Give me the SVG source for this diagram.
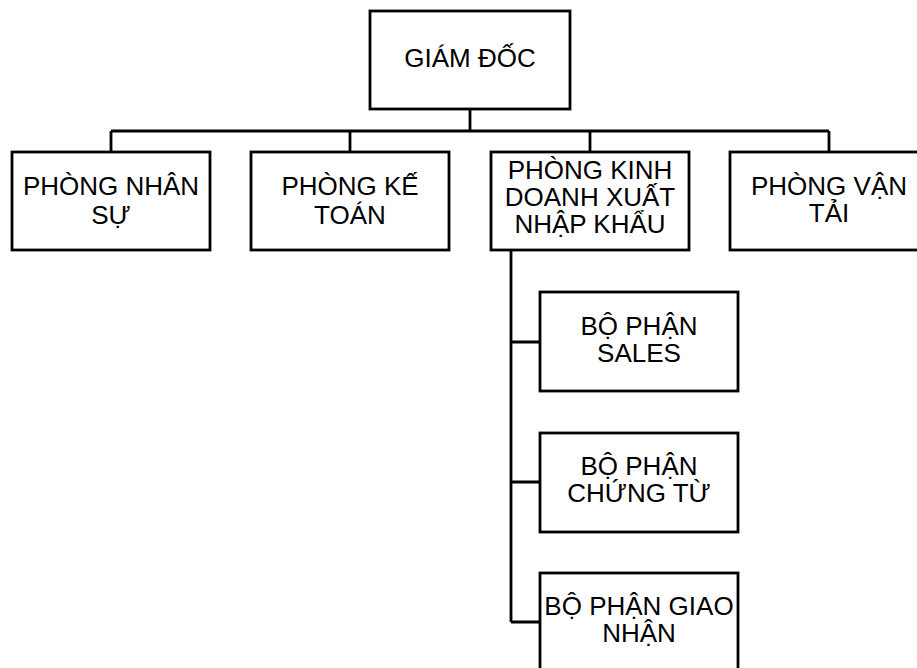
<svg xmlns="http://www.w3.org/2000/svg" width="917" height="668" viewBox="0 0 917 668">
<style>
.box{fill:#fff;stroke:#000;stroke-width:2.8}
.ln{fill:none;stroke:#000;stroke-width:2.8}
text{font-family:"Liberation Sans",Arial,sans-serif;font-size:26px;fill:#000;text-anchor:middle}
</style>
<rect width="917" height="668" fill="#fff"/>
<g id="connectors">
<path class="ln" d="M470 109 V131 M111 131 H829 M111 131 V152 M350 131 V152 M590 131 V152 M829 131 V152"/>
<path class="ln" d="M511 250 V622 M511 342 H540 M511 482 H540 M511 622 H540"/>
</g>
<g id="giam-doc"><rect class="box" x="370" y="11" width="200" height="98"/><text x="470" y="67">GIÁM ĐỐC</text></g>
<g id="phong-nhan-su"><rect class="box" x="12" y="152" width="198" height="98"/><text x="111" y="195">PHÒNG NHÂN</text><text x="111" y="224">SỰ</text></g>
<g id="phong-ke-toan"><rect class="box" x="251" y="152" width="198" height="98"/><text x="350" y="195">PHÒNG KẾ</text><text x="350" y="224">TOÁN</text></g>
<g id="phong-kinh-doanh"><rect class="box" x="491" y="152" width="198" height="98"/><text x="590" y="179">PHÒNG KINH</text><text x="590" y="206">DOANH XUẤT</text><text x="590" y="233">NHẬP KHẨU</text></g>
<g id="phong-van-tai"><rect class="box" x="730" y="152" width="198" height="98"/><text x="829" y="195">PHÒNG VẬN</text><text x="829" y="222">TẢI</text></g>
<g id="bp-sales"><rect class="box" x="540" y="292" width="198" height="99"/><text x="639" y="335">BỘ PHẬN</text><text x="639" y="362">SALES</text></g>
<g id="bp-chung-tu"><rect class="box" x="540" y="433" width="198" height="99"/><text x="639" y="475">BỘ PHẬN</text><text x="639" y="502">CHỨNG TỪ</text></g>
<g id="bp-giao-nhan"><rect class="box" x="540" y="573" width="198" height="99"/><text x="639" y="615">BỘ PHẬN GIAO</text><text x="639" y="642">NHẬN</text></g>
</svg>
